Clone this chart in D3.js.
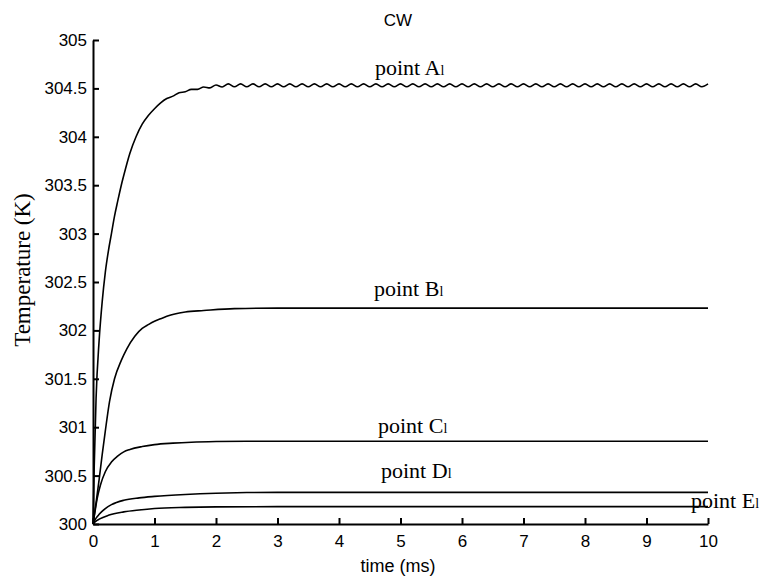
<!DOCTYPE html>
<html>
<head>
<meta charset="utf-8">
<script src="https://cdn.jsdelivr.net/npm/d3@7"></script>
<style>
  html, body { margin: 0; padding: 0; background: #fff; }
  svg { display: block; }
</style>
</head>
<body>
<svg id="chart" width="775" height="578"></svg>
<script>
// Temperature rise at points A1..E1 (CW case), time in ms, temperature in K.
const timeA = [0, 0.02, 0.05, 0.1, 0.15, 0.2, 0.25, 0.3, 0.35, 0.4, 0.46, 0.5, 0.6, 0.7, 0.8, 0.9,
  1.0, 1.1, 1.2, 1.3, 1.4, 1.5, 1.6, 1.7, 1.8, 1.9,
  2.0, 2.1, 2.2, 2.3, 2.4, 2.5, 2.6, 2.7, 2.8, 2.9,
  3.0, 3.1, 3.2, 3.3, 3.4, 3.5, 3.6, 3.7, 3.8, 3.9,
  4.0, 4.1, 4.2, 4.3, 4.4, 4.5, 4.6, 4.7, 4.8, 4.9,
  5.0, 5.1, 5.2, 5.3, 5.4, 5.5, 5.6, 5.7, 5.8, 5.9,
  6.0, 6.1, 6.2, 6.3, 6.4, 6.5, 6.6, 6.7, 6.8, 6.9,
  7.0, 7.1, 7.2, 7.3, 7.4, 7.5, 7.6, 7.7, 7.8, 7.9,
  8.0, 8.1, 8.2, 8.3, 8.4, 8.5, 8.6, 8.7, 8.8, 8.9,
  9.0, 9.1, 9.2, 9.3, 9.4, 9.5, 9.6, 9.7, 9.8, 9.9,
  10.0];
const tempA = [300, 300.6, 301.3, 301.9, 302.3, 302.6, 302.82, 303.0, 303.18, 303.33, 303.5, 303.6, 303.83, 304.0, 304.13, 304.22,
  304.29, 304.35, 304.395, 304.42, 304.455, 304.465, 304.49, 304.49, 304.515, 304.505,
  304.535, 304.515, 304.547, 304.517, 304.547, 304.517, 304.547, 304.517, 304.547, 304.517,
  304.547, 304.517, 304.547, 304.517, 304.547, 304.517, 304.547, 304.517, 304.547, 304.517,
  304.547, 304.517, 304.547, 304.517, 304.547, 304.517, 304.547, 304.517, 304.547, 304.517,
  304.547, 304.517, 304.547, 304.517, 304.547, 304.517, 304.547, 304.517, 304.547, 304.517,
  304.547, 304.517, 304.547, 304.517, 304.547, 304.517, 304.547, 304.517, 304.547, 304.517,
  304.547, 304.517, 304.547, 304.517, 304.547, 304.517, 304.547, 304.517, 304.547, 304.517,
  304.547, 304.517, 304.547, 304.517, 304.547, 304.517, 304.547, 304.517, 304.547, 304.517,
  304.547, 304.517, 304.547, 304.517, 304.547, 304.517, 304.547, 304.517, 304.547, 304.517,
  304.547];

const timeB = [0, 0.05, 0.1, 0.15, 0.2, 0.27, 0.35, 0.46, 0.55, 0.68, 0.8, 0.9, 1.0, 1.1, 1.2, 1.33, 1.5, 1.8, 2.3, 3.0, 10.0];
const tempB = [300, 300.22, 300.46, 300.72, 300.96, 301.27, 301.5, 301.69, 301.81, 301.94, 302.02, 302.06, 302.095, 302.12, 302.145, 302.17, 302.19, 302.205, 302.225, 302.23, 302.23];

const timeC = [0, 0.03, 0.07, 0.12, 0.2, 0.3, 0.4, 0.5, 0.6, 0.8, 1.0, 1.3, 1.6, 2.0, 2.5, 10.0];
const tempC = [300, 300.12, 300.27, 300.40, 300.54, 300.64, 300.70, 300.745, 300.77, 300.80, 300.82, 300.835, 300.845, 300.852, 300.855, 300.855];

const timeD = [0, 0.05, 0.1, 0.2, 0.3, 0.5, 0.75, 1.0, 1.5, 2.0, 2.5, 3.0, 10.0];
const tempD = [300, 300.06, 300.10, 300.16, 300.20, 300.245, 300.27, 300.285, 300.305, 300.318, 300.325, 300.327, 300.327];

const timeE = [0, 0.05, 0.1, 0.25, 0.5, 0.75, 1.0, 1.5, 2.0, 3.0, 10.0];
const tempE = [300, 300.03, 300.05, 300.09, 300.125, 300.145, 300.16, 300.172, 300.177, 300.179, 300.179];

const seriesNames = ["A", "B", "C", "D", "E"];
const xTicks = [0, 1, 2, 3, 4, 5, 6, 7, 8, 9, 10];
const yTicks = [300, 300.5, 301, 301.5, 302, 302.5, 303, 303.5, 304, 304.5, 305];

const titleText = "CW";
const xLabel = "time (ms)";
const yLabel = "Temperature (K)";

const series = [
  { name: seriesNames[0], t: timeA, v: tempA, lx: 375, ly: 75 },
  { name: seriesNames[1], t: timeB, v: tempB, lx: 374, ly: 296 },
  { name: seriesNames[2], t: timeC, v: tempC, lx: 378, ly: 433 },
  { name: seriesNames[3], t: timeD, v: tempD, lx: 381, ly: 478 },
  { name: seriesNames[4], t: timeE, v: tempE, lx: 691, ly: 508 }
];

const svg = d3.select("#chart");
const plotLeft = 93, plotRight = 708, plotTop = 40, plotBottom = 524;

const x = d3.scaleLinear().domain([0, 10]).range([plotLeft, plotRight]);
const y = d3.scaleLinear().domain([300, 305]).range([plotBottom, plotTop]);

const sans = "'Liberation Sans', Arial, sans-serif";
const serif = "'Liberation Serif', 'Times New Roman', serif";

// axes: left and bottom only, ticks pointing inward
const xAxis = d3.axisBottom(x).tickValues(xTicks).tickFormat(d3.format("d"))
  .tickSizeInner(-6).tickSizeOuter(0).tickPadding(12);
const yAxis = d3.axisLeft(y).tickValues(yTicks).tickFormat(d => String(d))
  .tickSizeInner(-6).tickSizeOuter(0).tickPadding(12);

const gx = svg.append("g").attr("transform", `translate(0,${plotBottom})`).call(xAxis);
const gy = svg.append("g").attr("transform", `translate(${plotLeft},0)`).call(yAxis);

[gx, gy].forEach(g => {
  g.select(".domain").attr("stroke", "#000").attr("stroke-width", 2);
  g.selectAll(".tick line").attr("stroke", "#000").attr("stroke-width", 2);
  g.selectAll(".tick text").attr("fill", "#000")
    .style("font-family", sans).style("font-size", "17px");
});
gx.selectAll(".tick text").attr("dy", "0.71em").attr("y", 11);
gy.selectAll(".tick text").attr("x", -6);

// curves
const line = d3.line()
  .x(d => x(d[0]))
  .y(d => y(d[1]))
  .curve(d3.curveMonotoneX);

series.forEach(s => {
  const pts = s.t.map((t, i) => [t, s.v[i]]);
  svg.append("path")
    .datum(pts)
    .attr("d", line)
    .attr("fill", "none")
    .attr("stroke", "#000")
    .attr("stroke-width", 1.6)
    .attr("stroke-linejoin", "round");

  const lab = svg.append("text")
    .attr("x", s.lx)
    .attr("y", s.ly)
    .style("font-family", serif)
    .style("font-size", "22px")
    .attr("fill", "#000")
    .text("point " + s.name);
  lab.append("tspan").style("font-size", "14px").text("l");
});

// title and axis labels
svg.append("text")
  .attr("x", 398).attr("y", 26)
  .attr("text-anchor", "middle")
  .style("font-family", sans).style("font-size", "17px")
  .text(titleText);

svg.append("text")
  .attr("x", 398).attr("y", 572)
  .attr("text-anchor", "middle")
  .style("font-family", sans).style("font-size", "18px")
  .text(xLabel);

svg.append("text")
  .attr("transform", "translate(30,270) rotate(-90)")
  .attr("text-anchor", "middle")
  .style("font-family", serif).style("font-size", "23px")
  .text(yLabel);
</script>
</body>
</html>
